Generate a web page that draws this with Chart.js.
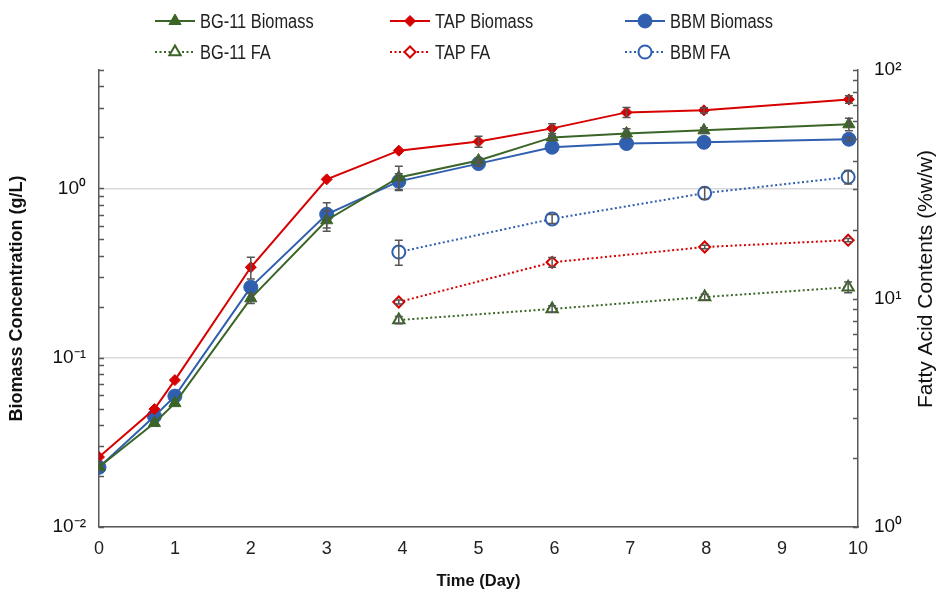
<!DOCTYPE html>
<html>
<head>
<meta charset="utf-8">
<script src="https://cdn.jsdelivr.net/npm/chart.js@4.4.1/dist/chart.umd.min.js"></script>
<style>
  html, body { margin: 0; padding: 0; background: #fff; }
  #chart { display: block; }
</style>
</head>
<body>
<canvas id="chart" width="938" height="592"></canvas>
<script>
// sampling times (days)
const biomassDays = [0, 0.73, 1, 2, 3, 3.95, 5, 5.97, 6.95, 7.97, 9.88];
const faDays = [3.95, 5.97, 7.98, 9.87];

// biomass concentration (g/L)
const bg11Biomass = [0.0226, 0.0411, 0.0539, 0.224, 0.648, 1.16, 1.46, 2.0, 2.11, 2.2, 2.39];
const tapBiomass = [0.0259, 0.0497, 0.0737, 0.342, 1.13, 1.67, 1.89, 2.26, 2.81, 2.89, 3.35];
const bbmBiomass = [0.0225, 0.0451, 0.0593, 0.261, 0.703, 1.1, 1.4, 1.75, 1.84, 1.87, 1.95];
const bg11BiomassErr = [0, 0, 0, 0.015, 0.09, 0.19, 0.05, 0.05, 0.14, 0.08, 0.2];
const tapBiomassErr = [0, 0, 0, 0.05, 0, 0, 0.14, 0.15, 0.19, 0.1, 0.17];
const bbmBiomassErr = [0, 0, 0, 0, 0.12, 0.12, 0.05, 0, 0, 0, 0.05];

// fatty acid contents (%w/w)
const bg11FA = [8.05, 9.0, 10.15, 11.2];
const tapFA = [9.65, 14.4, 16.8, 18.0];
const bbmFA = [15.97, 22.3, 28.9, 34.0];
const bg11FAErr = [0.3, 0.3, 0.3, 0.6];
const tapFAErr = [0.2, 0.7, 0.3, 0.3];
const bbmFAErr = [2.0, 1.0, 1.7, 2.3];

// axis ticks
const leftTickValues = [0.01, 0.02, 0.03, 0.04, 0.05, 0.06, 0.07, 0.08, 0.09,
    0.1, 0.2, 0.3, 0.4, 0.5, 0.6, 0.7, 0.8, 0.9, 1, 2, 3, 4, 5];
const leftMajorTicks = [0.01, 0.1, 1];
const leftTickLabels = ['10\u207B\u00B2', '10\u207B\u00B9', '10\u2070'];
const rightTickValues = [1, 2, 3, 4, 5, 6, 7, 8, 9,
    10, 20, 30, 40, 50, 60, 70, 80, 90, 100];
const rightMajorTicks = [1, 10, 100];
const rightTickLabels = ['10\u2070', '10\u00B9', '10\u00B2'];

const GREEN = '#3b6526';
const RED = '#d70000';
const BLUE = '#2f5fae';
const AXIS = '#595959';
const SANS = "'Liberation Sans', Arial, sans-serif";

const toPoints = (xs, ys) => xs.map((x, i) => ({ x, y: ys[i] }));

const biomassSet = (label, days, values, errors, color, pointStyle, radius) => ({
    label,
    data: toPoints(days, values),
    errorBars: errors,
    yAxisID: 'y',
    borderColor: color,
    backgroundColor: color,
    borderWidth: 2,
    pointStyle,
    pointRadius: radius,
    pointBorderWidth: 1,
    tension: 0
});

const faSet = (label, days, values, errors, color, pointStyle, radius) => ({
    label,
    data: toPoints(days, values),
    errorBars: errors,
    yAxisID: 'y2',
    borderColor: color,
    backgroundColor: '#ffffff',
    borderWidth: 2,
    borderDash: [2, 2.5],
    pointStyle,
    pointRadius: radius,
    pointBorderWidth: 2,
    tension: 0
});

const datasets = [
    biomassSet('BG-11 Biomass', biomassDays, bg11Biomass, bg11BiomassErr, GREEN, 'triangle', 7),
    biomassSet('TAP Biomass', biomassDays, tapBiomass, tapBiomassErr, RED, 'rectRot', 5.5),
    biomassSet('BBM Biomass', biomassDays, bbmBiomass, bbmBiomassErr, BLUE, 'circle', 7),
    faSet('BG-11 FA', faDays, bg11FA, bg11FAErr, GREEN, 'triangle', 6.5),
    faSet('TAP FA', faDays, tapFA, tapFAErr, RED, 'rectRot', 5.5),
    faSet('BBM FA', faDays, bbmFA, bbmFAErr, BLUE, 'circle', 6.5)
];

// error bars, drawn over the markers like in Excel
const errorBarsPlugin = {
    id: 'errorBars',
    afterDatasetsDraw(chart) {
        const ctx = chart.ctx;
        ctx.save();
        ctx.strokeStyle = '#555555';
        ctx.lineWidth = 1.5;
        chart.data.datasets.forEach((ds, i) => {
            const meta = chart.getDatasetMeta(i);
            const scale = chart.scales[ds.yAxisID];
            ds.data.forEach((p, j) => {
                const err = ds.errorBars[j];
                if (!err) return;
                const x = meta.data[j].x;
                const top = scale.getPixelForValue(p.y + err);
                const bottom = scale.getPixelForValue(p.y - err);
                ctx.beginPath();
                ctx.moveTo(x, top);
                ctx.lineTo(x, bottom);
                ctx.moveTo(x - 4, top);
                ctx.lineTo(x + 4, top);
                ctx.moveTo(x - 4, bottom);
                ctx.lineTo(x + 4, bottom);
                ctx.stroke();
            });
        });
        ctx.restore();
    }
};

// small inward tick marks on both value axes
const insideTicksPlugin = {
    id: 'insideTicks',
    afterDraw(chart) {
        const ctx = chart.ctx;
        const { left, right } = chart.chartArea;
        ctx.save();
        ctx.strokeStyle = AXIS;
        ctx.lineWidth = 1.5;
        ctx.beginPath();
        chart.scales.y.ticks.forEach(t => {
            const py = Math.round(chart.scales.y.getPixelForValue(t.value)) + 0.5;
            ctx.moveTo(left, py);
            ctx.lineTo(left + 5, py);
        });
        chart.scales.y2.ticks.forEach(t => {
            const py = Math.round(chart.scales.y2.getPixelForValue(t.value)) + 0.5;
            ctx.moveTo(right, py);
            ctx.lineTo(right - 5, py);
        });
        ctx.stroke();
        ctx.restore();
    }
};

// right axis title reads bottom-to-top, as on the left
const rightTitlePlugin = {
    id: 'rightTitle',
    afterDraw(chart) {
        const ctx = chart.ctx;
        ctx.save();
        ctx.translate(926, 279);
        ctx.rotate(-Math.PI / 2);
        ctx.font = `21px ${SANS}`;
        ctx.fillStyle = '#111111';
        ctx.textAlign = 'center';
        ctx.textBaseline = 'middle';
        ctx.fillText('Fatty Acid Contents (%w/w)', 0, 0);
        ctx.restore();
    }
};

// legend in three columns, two rows; text squeezed like the original narrow face
const legendCols = [175, 410, 645];
const legendRows = [21, 52];

const legendPlugin = {
    id: 'gridLegend',
    afterDraw(chart) {
        const ctx = chart.ctx;
        ctx.save();
        chart.data.datasets.forEach((ds, i) => {
            const cx = legendCols[i % 3];
            const cy = legendRows[Math.floor(i / 3)];
            ctx.strokeStyle = ds.borderColor;
            ctx.lineWidth = 2;
            ctx.setLineDash(ds.borderDash || []);
            ctx.beginPath();
            ctx.moveTo(cx - 20, cy);
            ctx.lineTo(cx + 20, cy);
            ctx.stroke();
            ctx.setLineDash([]);
            ctx.fillStyle = ds.backgroundColor;
            ctx.lineWidth = ds.pointBorderWidth;
            Chart.helpers.drawPoint(ctx, {
                pointStyle: ds.pointStyle,
                radius: ds.pointRadius,
                rotation: 0,
                borderWidth: ds.pointBorderWidth
            }, cx, cy);
            ctx.save();
            ctx.translate(cx + 25, cy + 1);
            ctx.scale(0.82, 1);
            ctx.fillStyle = '#222222';
            ctx.font = `20px ${SANS}`;
            ctx.textAlign = 'left';
            ctx.textBaseline = 'middle';
            ctx.fillText(ds.label, 0, 0);
            ctx.restore();
        });
        ctx.restore();
    }
};

new Chart(document.getElementById('chart'), {
    type: 'line',
    data: { datasets },
    options: {
        responsive: false,
        animation: false,
        devicePixelRatio: 1,
        layout: { padding: { top: 70, left: 0, right: 0, bottom: 0 } },
        plugins: {
            legend: { display: false },
            tooltip: { enabled: false }
        },
        scales: {
            x: {
                type: 'linear',
                min: 0,
                max: 10,
                afterFit: scale => { scale.height = 65; },
                ticks: {
                    stepSize: 1,
                    padding: 11,
                    color: '#222222',
                    font: { family: SANS, size: 18 }
                },
                grid: { display: false, drawTicks: false },
                border: { color: AXIS, width: 1.5 },
                title: {
                    display: true,
                    text: 'Time (Day)',
                    color: '#111111',
                    font: { family: SANS, size: 16.5, weight: 'bold' },
                    padding: { top: 0, bottom: 1 }
                }
            },
            y: {
                type: 'logarithmic',
                position: 'left',
                min: 0.01,
                max: 5,
                afterFit: scale => { scale.width = 99; },
                afterBuildTicks: scale => {
                    scale.ticks = leftTickValues.map(value => ({ value }));
                },
                ticks: {
                    autoSkip: false,
                    padding: 13,
                    color: '#111111',
                    font: { family: SANS, size: 19 },
                    callback: value => {
                        const i = leftMajorTicks.indexOf(value);
                        return i >= 0 ? leftTickLabels[i] : '';
                    }
                },
                grid: {
                    drawTicks: false,
                    lineWidth: 1.5,
                    color: ctx => (ctx.tick && leftMajorTicks.includes(ctx.tick.value)) ? '#d9d9d9' : 'rgba(0,0,0,0)'
                },
                border: { color: AXIS, width: 1.5 },
                title: {
                    display: true,
                    text: 'Biomass Concentration (g/L)',
                    color: '#111111',
                    font: { family: SANS, size: 18, weight: 'bold' },
                    padding: { top: 6, bottom: 0 }
                }
            },
            y2: {
                type: 'logarithmic',
                position: 'right',
                min: 1,
                max: 100,
                afterFit: scale => { scale.width = 80; },
                afterBuildTicks: scale => {
                    scale.ticks = rightTickValues.map(value => ({ value }));
                },
                ticks: {
                    autoSkip: false,
                    padding: 16,
                    color: '#111111',
                    font: { family: SANS, size: 19 },
                    callback: value => {
                        const i = rightMajorTicks.indexOf(value);
                        return i >= 0 ? rightTickLabels[i] : '';
                    }
                },
                grid: { drawOnChartArea: false, drawTicks: false },
                border: { color: AXIS, width: 1.5 }
            }
        }
    },
    plugins: [errorBarsPlugin, insideTicksPlugin, rightTitlePlugin, legendPlugin]
});
</script>
</body>
</html>
